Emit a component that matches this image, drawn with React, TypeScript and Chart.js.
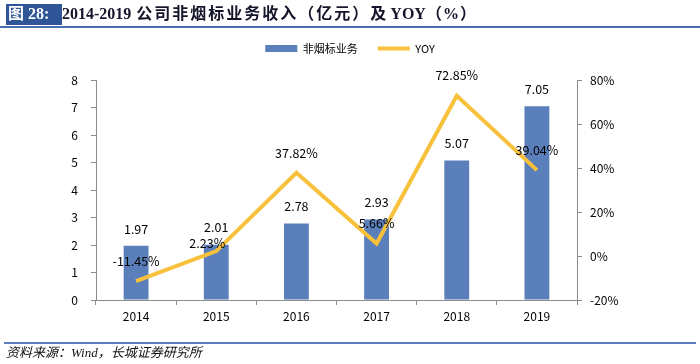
import React, { useEffect, useRef } from "react";
import { Chart, registerables } from "chart.js";

Chart.register(...registerables);

const years = ["2014", "2015", "2016", "2017", "2018", "2019"];
const revenue = [1.97, 2.01, 2.78, 2.93, 5.07, 7.05];
const yoy = [-11.45, 2.23, 37.82, 5.66, 72.85, 39.04];
const revenueLabel = "非烟标业务";
const yoyLabel = "YOY";

const BAR_COLOR = "#5A7FBA";
const LINE_COLOR = "#F7C13C";
const AXIS_COLOR = "#8C8C8C";
const FONT = '"Noto Sans CJK SC", "Liberation Sans", sans-serif';
const SERIF = '"Liberation Serif", "Noto Sans CJK SC", serif';

const valueLabels = {
  id: "valueLabels",
  afterDatasetsDraw(chart: any) {
    const ctx = chart.ctx;
    ctx.save();
    ctx.font = `12.5px ${FONT}`;
    ctx.fillStyle = "#000";
    ctx.textAlign = "center";
    ctx.textBaseline = "middle";
    chart.getDatasetMeta(0).data.forEach((el: any, i: number) => {
      ctx.fillText(revenue[i].toFixed(2), el.x, el.y - 17);
    });
    chart.getDatasetMeta(1).data.forEach((el: any, i: number) => {
      const dx = i === 1 ? -9 : 0;
      const dy = i === 1 ? -8 : -20;
      ctx.fillText(yoy[i].toFixed(2) + "%", el.x + dx, el.y + dy);
    });
    ctx.restore();
  },
};

export default function App() {
  const ref = useRef<HTMLCanvasElement | null>(null);
  useEffect(() => {
    document.body.style.margin = "0";
    const chart = new Chart(ref.current as HTMLCanvasElement, {
      type: "bar",
      data: {
        labels: years,
        datasets: [
          {
            type: "bar",
            label: revenueLabel,
            data: revenue,
            backgroundColor: BAR_COLOR,
            borderWidth: 0,
            yAxisID: "y",
            categoryPercentage: 1,
            barPercentage: 0.31,
            pointStyle: "rect",
            order: 1,
          } as any,
          {
            type: "line",
            label: yoyLabel,
            data: yoy,
            borderColor: LINE_COLOR,
            backgroundColor: LINE_COLOR,
            borderWidth: 4,
            pointRadius: 0,
            pointStyle: "line",
            tension: 0,
            yAxisID: "y1",
            order: 0,
          } as any,
        ],
      },
      options: {
        responsive: false,
        devicePixelRatio: 1,
        animation: false,
        layout: { padding: { top: 23, bottom: 24, left: 0, right: 0 } },
        plugins: {
          tooltip: { enabled: false },
          title: {
            display: true,
            text: "",
            position: "top",
            weight: 500,
            font: { size: 12, lineHeight: 1.2 },
            padding: { top: 0, bottom: 1.6 },
          } as any,
          legend: {
            position: "top",
            labels: {
              usePointStyle: true,
              pointStyleWidth: 32,
              boxHeight: 7,
              padding: 20,
              color: "#000",
              font: { family: FONT, size: 11 },
              sort: (a: any, b: any) => a.datasetIndex - b.datasetIndex,
            },
          },
        },
        scales: {
          x: {
            offset: true,
            grid: {
              display: true,
              drawOnChartArea: false,
              drawTicks: true,
              tickLength: 5,
              color: AXIS_COLOR,
              offset: true,
            },
            border: { display: true, color: AXIS_COLOR, width: 1 },
            ticks: { color: "#000", font: { family: FONT, size: 12 }, padding: 4 },
            afterFit: (s: any) => {
              s.height = 40;
            },
          },
          y: {
            position: "left",
            min: 0,
            max: 8,
            ticks: { stepSize: 1, color: "#000", font: { family: FONT, size: 12 }, padding: 13 },
            grid: { drawOnChartArea: false, drawTicks: true, tickLength: 5, color: AXIS_COLOR },
            border: { display: true, color: AXIS_COLOR, width: 1 },
            afterFit: (s: any) => {
              s.width = 96;
            },
          },
          y1: {
            position: "right",
            min: -20,
            max: 80,
            ticks: {
              stepSize: 20,
              color: "#000",
              font: { family: FONT, size: 12 },
              padding: 8,
              callback: (v: any) => v + "%",
            },
            grid: { drawOnChartArea: false, drawTicks: true, tickLength: 5, color: AXIS_COLOR },
            border: { display: true, color: AXIS_COLOR, width: 1 },
            afterFit: (s: any) => {
              s.width = 123;
            },
          },
        },
      },
      plugins: [valueLabels],
    });
    return () => chart.destroy();
  }, []);

  return (
    <div
      style={{
        position: "fixed",
        left: 0,
        top: 0,
        width: 700,
        height: 364,
        background: "#fff",
        overflow: "hidden",
      }}
    >
      <canvas ref={ref} width={700} height={364} style={{ position: "absolute", left: 0, top: 0 }} />
      <div
        style={{
          position: "absolute",
          left: 6,
          top: 4,
          height: 21,
          width: 56,
          background: "#2F5597",
        }}
      />
      <div
        style={{
          position: "absolute",
          left: 8,
          top: 3,
          whiteSpace: "nowrap",
          fontFamily: SERIF,
          fontWeight: "bold",
          fontSize: 16,
          lineHeight: "22px",
          color: "#fff",
        }}
      >
        图 28:
      </div>
      <div
        style={{
          position: "absolute",
          left: 62,
          top: 3,
          whiteSpace: "nowrap",
          fontFamily: SERIF,
          fontWeight: "bold",
          fontSize: 16,
          lineHeight: "22px",
          color: "#14142a",
        }}
      >
        <span>2014-2019</span>
        <span style={{ letterSpacing: 2, marginLeft: 5 }}>公司非烟标业务收入（亿元）及</span>
        <span style={{ marginLeft: 2 }}>YOY</span>
        <span style={{ letterSpacing: 1 }}>（%）</span>
      </div>
      <div
        style={{
          position: "absolute",
          left: 0,
          top: 26,
          width: 700,
          height: 2,
          background: "#4A6DB0",
        }}
      />
      <div
        style={{
          position: "absolute",
          left: 4,
          top: 342,
          width: 692,
          height: 2,
          background: "#5B7FBF",
        }}
      />
      <div
        style={{
          position: "absolute",
          left: 6,
          top: 344,
          whiteSpace: "nowrap",
          fontFamily: SERIF,
          fontStyle: "italic",
          fontSize: 13,
          lineHeight: "18px",
          color: "#111",
        }}
      >
        资料来源：Wind，长城证券研究所
      </div>
    </div>
  );
}
